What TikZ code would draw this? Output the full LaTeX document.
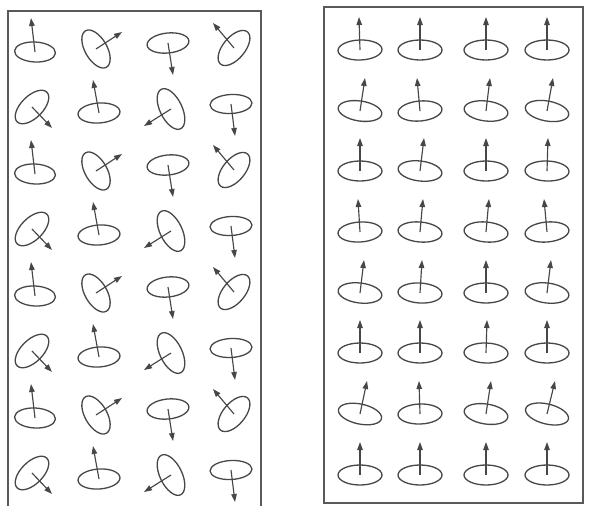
\documentclass[tikz,border=0pt]{standalone}
\usetikzlibrary{arrows.meta}
\tikzset{
  frame/.style={draw=black!65, line width=1.5pt},
  disc/.style={draw=black!72, line width=1.3pt},
  spinarrow/.style={draw=black!72, line width=1.15pt, -{Triangle[length=8pt,width=5.5pt]}},
}
\newcommand\spinmark[7]{%
  \draw[disc, shift={(#1,#2)}, rotate=#3] (0,0) ellipse [x radius=#4pt, y radius=#5pt];
  \draw[spinarrow] (#1,#2) -- ++(#6,#7);
}
\newcommand\upspin[3]{%
  \draw[disc, shift={(#1,#2)}, rotate={-atan(#3/33)}] (0,0) ellipse [x radius=22pt, y radius=10pt];
  \draw[spinarrow] (#1,#2) -- ++(#3,-33);
}
\begin{document}
\begin{tikzpicture}[x=1pt, y=-1pt]
\useasboundingbox (0,0) rectangle (615,506);
\fill[white] (0,0) rectangle (615,506);
% left box (open at the bottom)
\draw[frame] (8,506) -- (8,11) -- (261,11) -- (261,506);
\foreach \k in {0,1,2,3}{
  \pgfmathsetmacro\ya{48+122*\k}
  \pgfmathsetmacro\yb{109+122*\k}
  % odd rows
  \spinmark{35}{\ya+4}{-3}{20.5}{10}{-4}{-34}
  \spinmark{96}{\ya+1}{-60}{21}{11}{26}{-17}
  \spinmark{168}{\ya-5}{6}{21}{10}{5}{32}
  \spinmark{234}{\ya}{50}{21}{11}{-21}{-25}
  % even rows
  \spinmark{32}{\yb-2}{45}{21}{11}{20}{21}
  \spinmark{99}{\yb+4}{4}{21}{10}{-6}{-33}
  \spinmark{171}{\yb}{-64}{22}{11}{-27}{17}
  \spinmark{231}{\yb-5}{3}{21}{9.5}{4}{32}
}
% right box
\draw[frame] (324,7) rectangle (583,503);
\foreach \y/\ta/\tb/\tc/\td in {50/-1/0/0/0, 111/5/-3/4/6, 171/0/4/0/1, 232/-2/3/3/-3,
  293/4/2/0/4, 353/0/0/1/0, 414/7/-1/5/8, 475/0/0/0/0}{
  \upspin{360}{\y}{\ta}
  \upspin{420}{\y}{\tb}
  \upspin{486}{\y}{\tc}
  \upspin{547}{\y}{\td}
}
\end{tikzpicture}
\end{document}
